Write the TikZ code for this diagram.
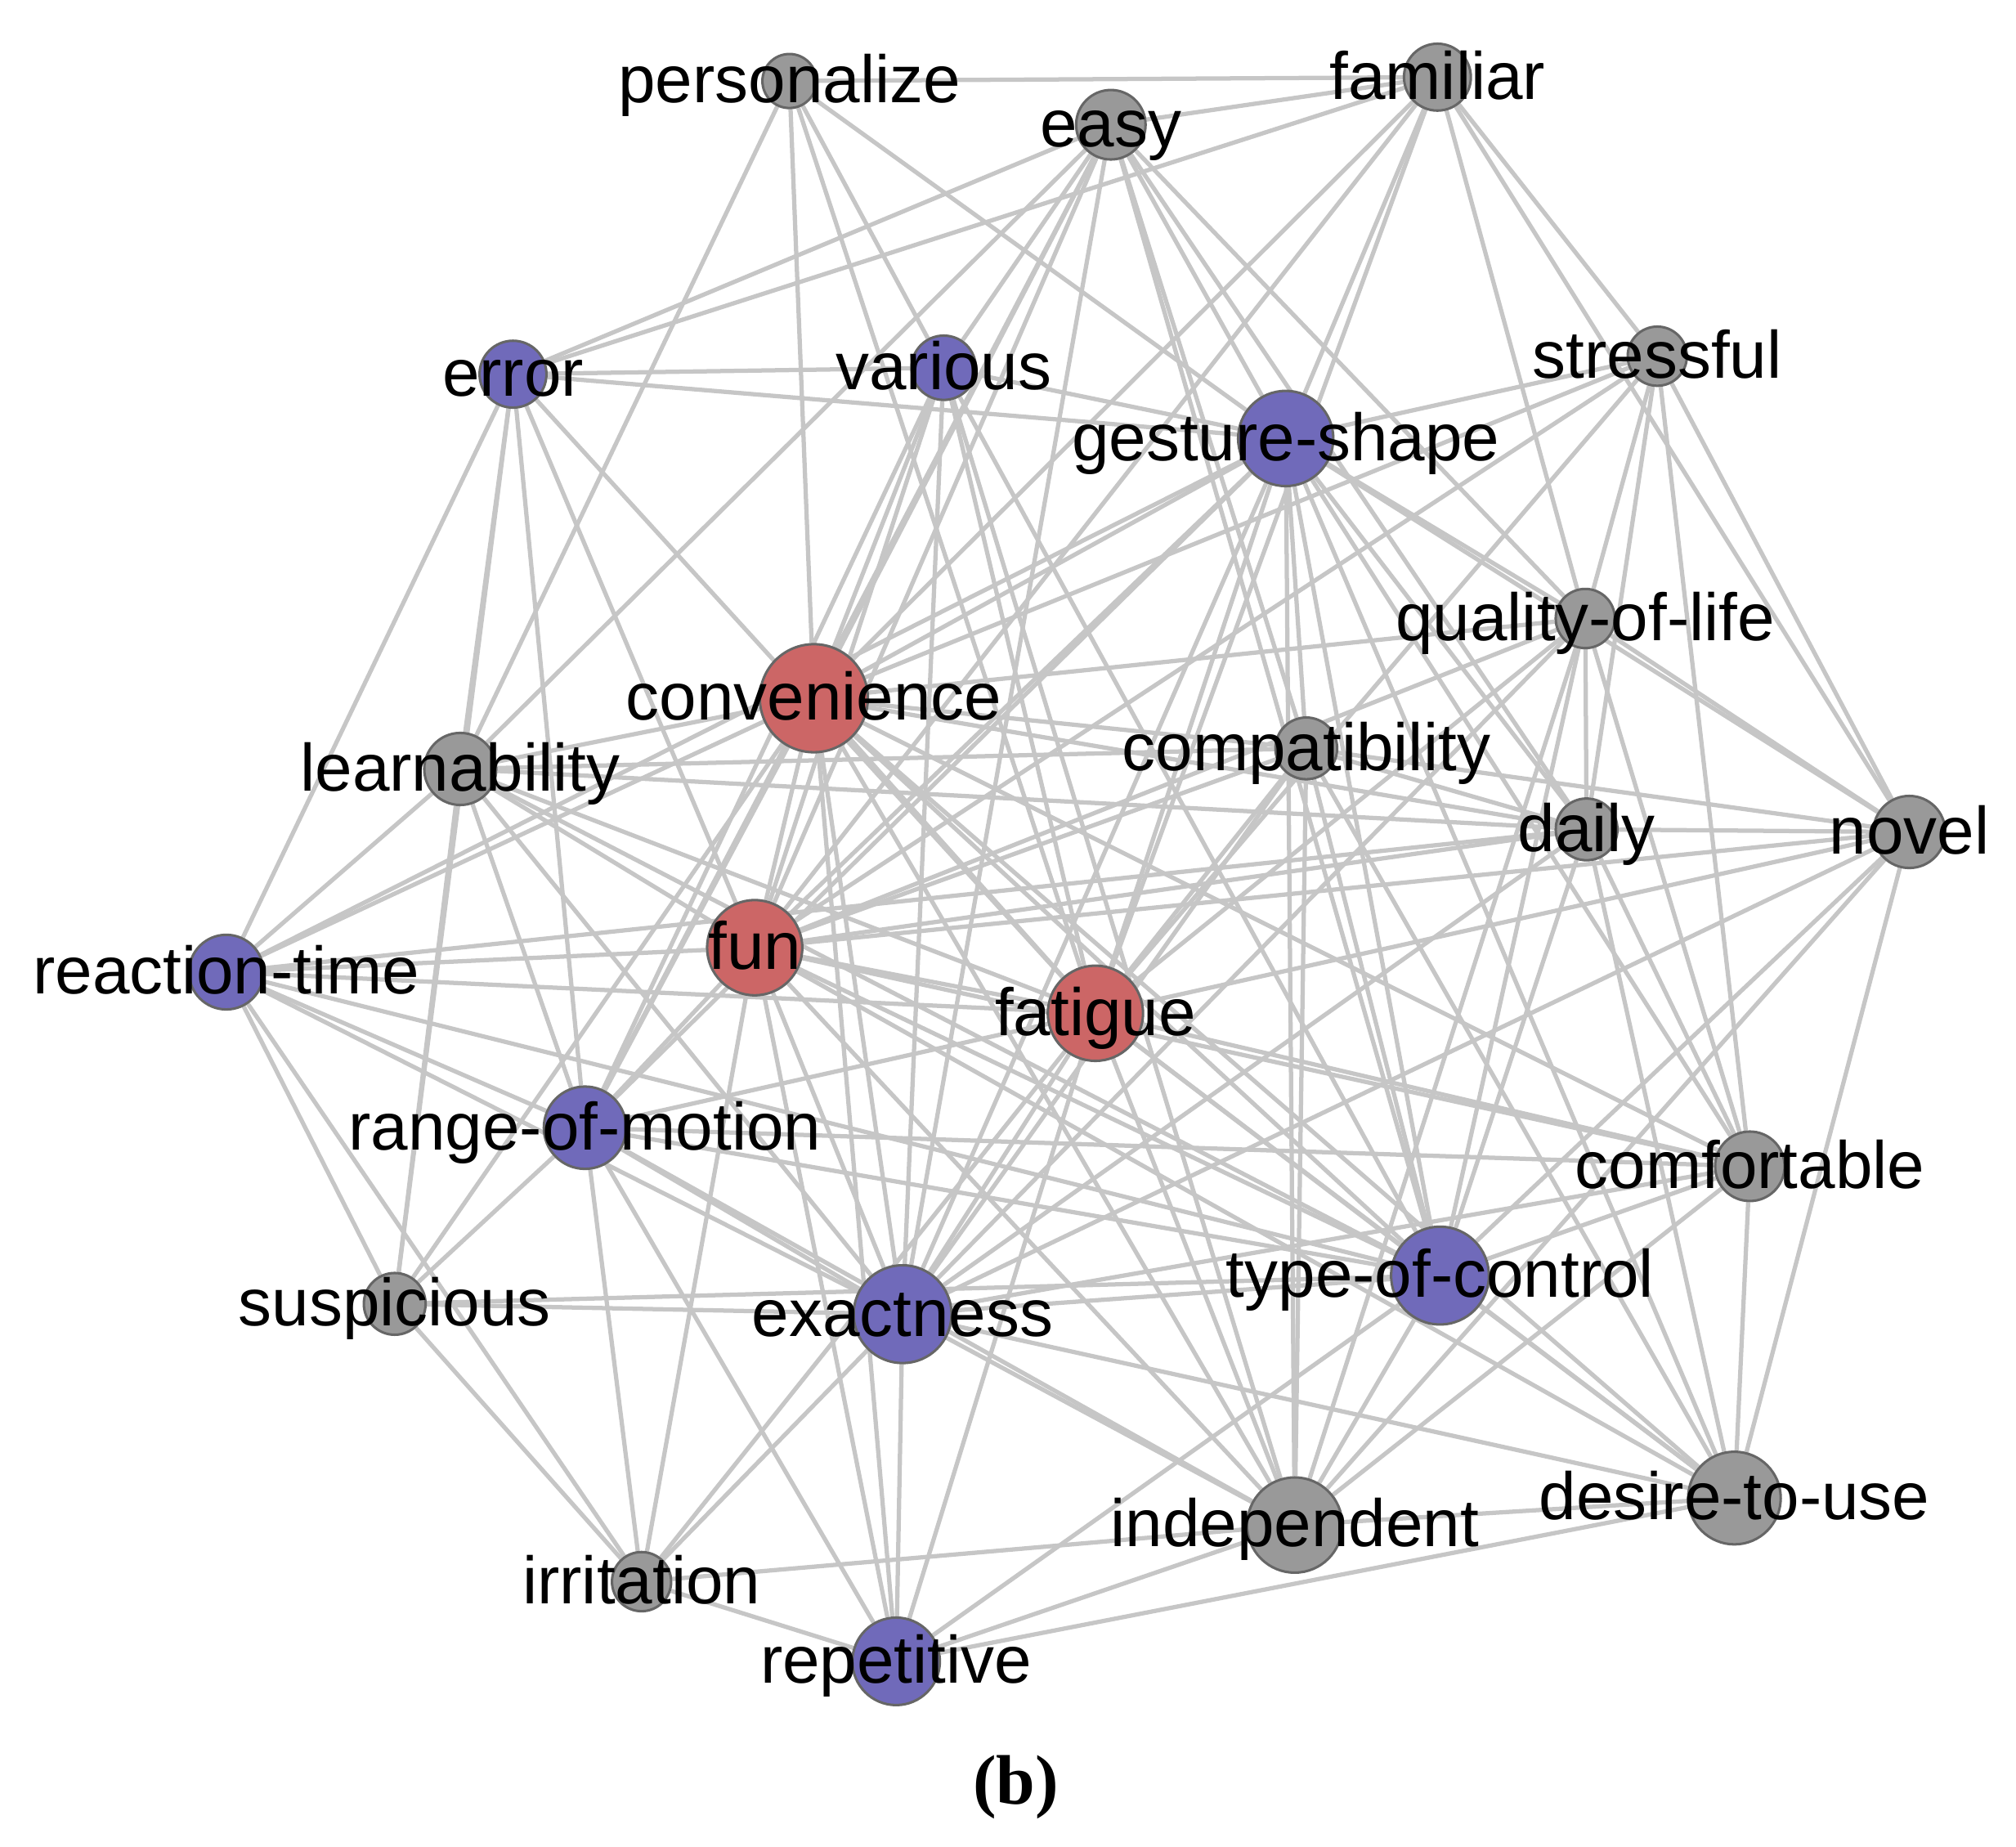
\documentclass[tikz,border=0pt]{standalone}
\usepackage{fontspec}
\newfontfamily\labfont{Liberation Sans}
\newfontfamily\capfont{Liberation Serif}
\usetikzlibrary{backgrounds}
\definecolor{nblue}{RGB}{112,106,186}
\definecolor{nred}{RGB}{204,102,102}
\definecolor{ngray}{RGB}{153,153,153}
\definecolor{edgec}{RGB}{198,198,198}
\tikzset{
  vtx/.style={circle, inner sep=0pt, draw=black!60, line width=0.55pt},
  vgray/.style={vtx, fill=ngray},
  vblue/.style={vtx, fill=nblue},
  vred/.style={vtx, fill=nred},
  lab/.style={font=\labfont\fontsize{14.8}{17}\selectfont, inner sep=0pt, anchor=base, text=black},
  lnk/.style={draw=edgec, line width=0.95pt}
}
\begin{document}
\begin{tikzpicture}[x=0.01cm, y=-0.01cm]
\useasboundingbox (0,0) rectangle (1568,1436);
% nodes
\node[vgray, minimum size=0.42cm] (P)  at (614,63)   {};
\node[vgray, minimum size=0.54cm] (E)  at (864,97)   {};
\node[vgray, minimum size=0.52cm] (F)  at (1118,60)  {};
\node[vblue, minimum size=0.52cm] (Er) at (399,291)  {};
\node[vblue, minimum size=0.50cm] (V)  at (734,286)  {};
\node[vgray, minimum size=0.46cm] (S)  at (1289,277) {};
\node[vblue, minimum size=0.74cm] (G)  at (1000,341) {};
\node[vgray, minimum size=0.46cm] (Q)  at (1233,481) {};
\node[vred,  minimum size=0.84cm] (C)  at (633,543)  {};
\node[vgray, minimum size=0.48cm] (Cp) at (1016,582) {};
\node[vgray, minimum size=0.56cm] (L)  at (358,598)  {};
\node[vgray, minimum size=0.48cm] (D)  at (1234,645) {};
\node[vgray, minimum size=0.56cm] (N)  at (1485,647) {};
\node[vblue, minimum size=0.58cm] (R)  at (176,756)  {};
\node[vred,  minimum size=0.74cm] (Fu) at (587,737)  {};
\node[vred,  minimum size=0.74cm] (Fa) at (852,788)  {};
\node[vblue, minimum size=0.64cm] (M)  at (455,877)  {};
\node[vgray, minimum size=0.54cm] (Cf) at (1361,907) {};
\node[vgray, minimum size=0.48cm] (Su) at (307,1014) {};
\node[vblue, minimum size=0.76cm] (X)  at (702,1022) {};
\node[vblue, minimum size=0.76cm] (T)  at (1120,992) {};
\node[vgray, minimum size=0.74cm] (I)  at (1007,1186) {};
\node[vgray, minimum size=0.72cm] (Dt) at (1349,1165) {};
\node[vgray, minimum size=0.46cm] (Ir) at (499,1230) {};
\node[vblue, minimum size=0.68cm] (Rp) at (697,1292) {};
% edges
\begin{scope}[on background layer]
\foreach \a/\b in {P/F, P/L, P/C, P/V, P/Fa, P/G,
E/F, E/Er, E/L, E/V, E/C, E/Fu, E/M, E/X, E/G, E/Cp, E/T, E/D, E/Q,
F/Er, F/G, F/C, F/Fu, F/Fa, F/S, F/N, F/Q,
Er/V, Er/G, Er/R, Er/L, Er/Su, Er/M, Er/Fu, Er/Fa,
V/G, V/C, V/Fu, V/M, V/X, V/Fa, V/T, V/I,
S/G, S/Q, S/D, S/N, S/C, S/Fa, S/Fu, S/Cf,
G/C, G/Fu, G/M, G/X, G/Fa, G/R, G/Q, G/D, G/N, G/Cf, G/T, G/Dt, G/I, G/Cp,
Q/N, Q/D, Q/C, Q/Fu, Q/T, Q/I, Q/Cf, Q/X, Q/Fa,
Cp/C, Cp/L, Cp/Fu, Cp/Fa, Cp/T, Cp/I, Cp/D, Cp/X, Cp/N, Cp/Dt,
D/N, D/Fu, D/L, D/C, D/T, D/Cf, D/Dt, D/X, D/R,
N/Fu, N/T, N/X, N/I, N/Dt, N/Fa,
R/L, R/C, R/Fu, R/Fa, R/M, R/X, R/Su, R/Ir, R/T,
L/C, L/Fa, L/X, L/T, L/Su, L/M, L/Fu,
C/Fu, C/Fa, C/M, C/X, C/Rp, C/T, C/I, C/Dt, C/Su, C/Cf,
Fu/Fa, Fu/M, Fu/X, Fu/Rp, Fu/T, Fu/I, Fu/Dt, Fu/Cf, Fu/Ir,
Fa/X, Fa/M, Fa/Rp, Fa/T, Fa/I, Fa/Dt, Fa/Cf, Fa/Ir,
M/Su, M/Ir, M/Rp, M/X, M/Cf, M/T, M/I,
Su/X, Su/T, Su/Ir,
X/Rp, X/Ir, X/T, X/I, X/Dt, X/Cf,
T/Cf, T/Dt, T/I, T/Rp,
I/Ir, I/Rp, I/Dt, I/Cf,
Dt/Rp, Dt/Cf,
Ir/Rp}
  \draw[lnk] (\a) -- (\b);
\end{scope}
% labels
\foreach \n/\t in {P/personalize, E/easy, F/familiar, Er/error, V/various, S/stressful,
  G/gesture-shape, Q/quality-of-life, C/convenience, Cp/compatibility, L/learnability,
  D/daily, N/novel, R/reaction-time, Fu/fun, Fa/fatigue, M/range-of-motion,
  Cf/comfortable, Su/suspicious, X/exactness, T/type-of-control, I/independent,
  Dt/desire-to-use, Ir/irritation, Rp/repetitive}
  \node[lab] (lab-\n) at ([yshift=-0.17cm]\n.center) {\t};
\node[font=\capfont\bfseries\fontsize{15.5}{18}\selectfont, inner sep=0pt] (cap) at (790,1390) {(b)};
\end{tikzpicture}
\end{document}
